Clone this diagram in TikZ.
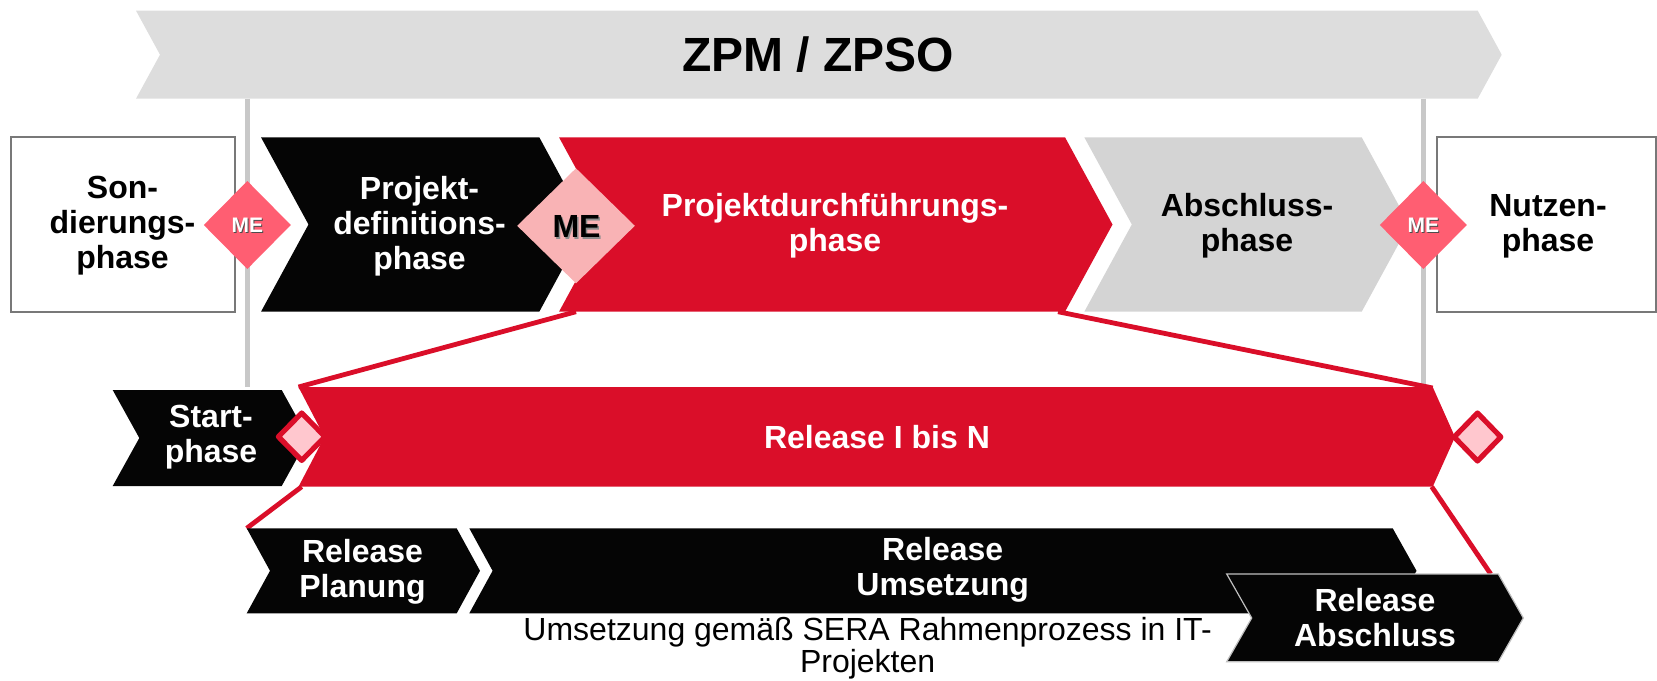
\documentclass[tikz,border=0pt]{standalone}
\usepackage{fontspec}
\setmainfont{Liberation Sans}
\definecolor{zred}{RGB}{218,14,41}
\definecolor{zblack}{RGB}{5,5,5}
\definecolor{bannergray}{RGB}{221,221,221}
\definecolor{phasegray}{RGB}{212,212,212}
\definecolor{linegray}{RGB}{200,200,200}
\definecolor{boxgray}{RGB}{120,120,120}
\definecolor{mepink}{RGB}{249,179,181}
\definecolor{mecoral}{RGB}{255,94,114}
\definecolor{msfill}{RGB}{255,199,206}
\begin{document}
\begin{tikzpicture}[x=0.5pt,y=-0.5pt,
  lbl/.style={font=\bfseries\fontsize{16}{17.5}\selectfont, align=center, inner sep=0pt},
  wlbl/.style={lbl, text=white},
  relline/.style={draw=zred, line width=2.4pt},
  vline/.style={draw=linegray, line width=2.2pt},
  sidebox/.style={draw=boxgray, line width=1pt, fill=white},
  milestone/.style={draw=zred, fill=msfill, line width=2.6pt, line join=round},
  melbl/.style={font=\bfseries\fontsize{10.5}{12}\selectfont, inner sep=0pt}
]
\useasboundingbox (0,0) rectangle (1657,680);

% banner
\fill[bannergray] (136,10.7) -- (1477.7,10.7) -- (1501.7,54.7) -- (1477.7,98.7) -- (136,98.7) -- (160,54.7) -- cycle;
\node[font=\bfseries\fontsize{24}{28}\selectfont, inner sep=0pt] (zpm) at (818,55) {ZPM / ZPSO};

% gate lines
\coordinate (gL1) at (247.3,98.7);
\coordinate (gL2) at (247.3,387);
\coordinate (gR1) at (1423.3,98.7);
\coordinate (gR2) at (1423.3,386);
\draw[vline] (gL1) -- (gL2);
\draw[vline] (gR1) -- (gR2);

% side boxes
\draw[sidebox] (10.6,137.3) rectangle (234.5,311.7);
\draw[sidebox] (1437,137.3) rectangle (1656,311.7);
\node[lbl] (sond) at (122.5,226) {Son-\\dierungs-\\phase};
\node[lbl] (nutz) at (1548,226) {Nutzen-\\phase};

% main phases
\fill[zblack] (261,137.3) -- (539.3,137.3) -- (586.5,224.5) -- (539.3,311.7) -- (261,311.7) -- (308.5,224.5) -- cycle;
\fill[zred] (559,137.3) -- (1065,137.3) -- (1112.5,224.5) -- (1065,311.7) -- (559,311.7) -- (606.5,224.5) -- cycle;
\fill[phasegray] (1084.3,137.3) -- (1361.7,137.3) -- (1409.2,224.5) -- (1361.7,311.7) -- (1084.3,311.7) -- (1131.8,224.5) -- cycle;
\node[wlbl] (pdef) at (419.5,226) {Projekt-\\definitions-\\phase};
\node[wlbl] (pdur) at (835,226) {Projektdurchführungs-\\phase};
\node[lbl] (absch) at (1247,226) {Abschluss-\\phase};

% milestones of the main phases
\fill[mecoral] (247.3,181) -- (290.8,225) -- (247.3,269) -- (203.8,225) -- cycle;
\fill[mecoral] (1423.3,181) -- (1466.8,225) -- (1423.3,269) -- (1379.8,225) -- cycle;
\fill[mepink] (576,168.3) -- (634.8,225.8) -- (576,283.3) -- (517.2,225.8) -- cycle;
\node[melbl, text=black!70] (me1s) at (248.3,226) {ME};
\node[melbl, text=white] (me1) at (247.3,225) {ME};
\node[melbl, text=black!70] (me3s) at (1424.3,226) {ME};
\node[melbl, text=white] (me3) at (1423.3,225) {ME};
\node[font=\bfseries\fontsize{16}{18}\selectfont, inner sep=0pt, text=black!45] (me2s) at (578,228) {ME};
\node[font=\bfseries\fontsize{16}{18}\selectfont, inner sep=0pt, text=black] (me2) at (576.5,226.5) {ME};

% zoom connectors
\coordinate (pdBL) at (576,311.7);
\coordinate (pdBR) at (1058,311.7);
\coordinate (rbTL) at (298.5,387);
\coordinate (rbTR) at (1432.7,388);
\coordinate (rbBL) at (301.7,486.7);
\coordinate (rbBR) at (1431.7,486.7);
\coordinate (rpTL) at (246.7,528.3);
\coordinate (raTR) at (1490.7,574);
\draw[relline] (pdBL) -- (rbTL);
\draw[relline] (pdBR) -- (rbTR);
\draw[relline] (rbBL) -- (rpTL);
\draw[relline] (rbBR) -- (raTR);

% release level
\fill[zblack] (112.7,390) -- (281.7,390) -- (308.3,438) -- (281.7,486) -- (112.7,486) -- (139.3,438) -- cycle;
\fill[zred] (298.5,387) -- (1432.7,387) -- (1455,437) -- (1432.7,486.7) -- (298.5,486.7) -- (324.5,437) -- cycle;
\node[wlbl] (start) at (211,437) {Start-\\phase};
\node[wlbl] (rel) at (877,437) {Release I bis N};
\draw[milestone] (301.7,413) -- (325,436.7) -- (301.7,460.4) -- (278.4,436.7) -- cycle;
\draw[milestone] (1477.5,413) -- (1500.8,437) -- (1477.5,461) -- (1454.2,437) -- cycle;

% release steps
\fill[zblack] (246.7,528.3) -- (456.7,528.3) -- (480,570.8) -- (456.7,613.3) -- (246.7,613.3) -- (270,570.8) -- cycle;
\fill[zblack] (469.3,528.3) -- (1392.7,528.3) -- (1416.5,570.8) -- (1392.7,613.3) -- (469.3,613.3) -- (492.6,570.8) -- cycle;
\filldraw[fill=zblack, draw=black!25, line width=0.6pt] (1226.7,574) -- (1498.3,574) -- (1523.3,618) -- (1498.3,661.7) -- (1226.7,661.7) -- (1251.7,618) -- cycle;
\node[wlbl] (rplan) at (362.5,571.5) {Release\\Planung};
\node[wlbl] (rums) at (942.7,569.5) {Release\\Umsetzung};
\node[wlbl] (rabs) at (1375,617.5) {Release\\Abschluss};
\node[font=\fontsize{16}{16}\selectfont, align=center, inner sep=0pt] (sera) at (867.6,648) {Umsetzung gemäß SERA Rahmenprozess in IT-\\Projekten};
\end{tikzpicture}
\end{document}
